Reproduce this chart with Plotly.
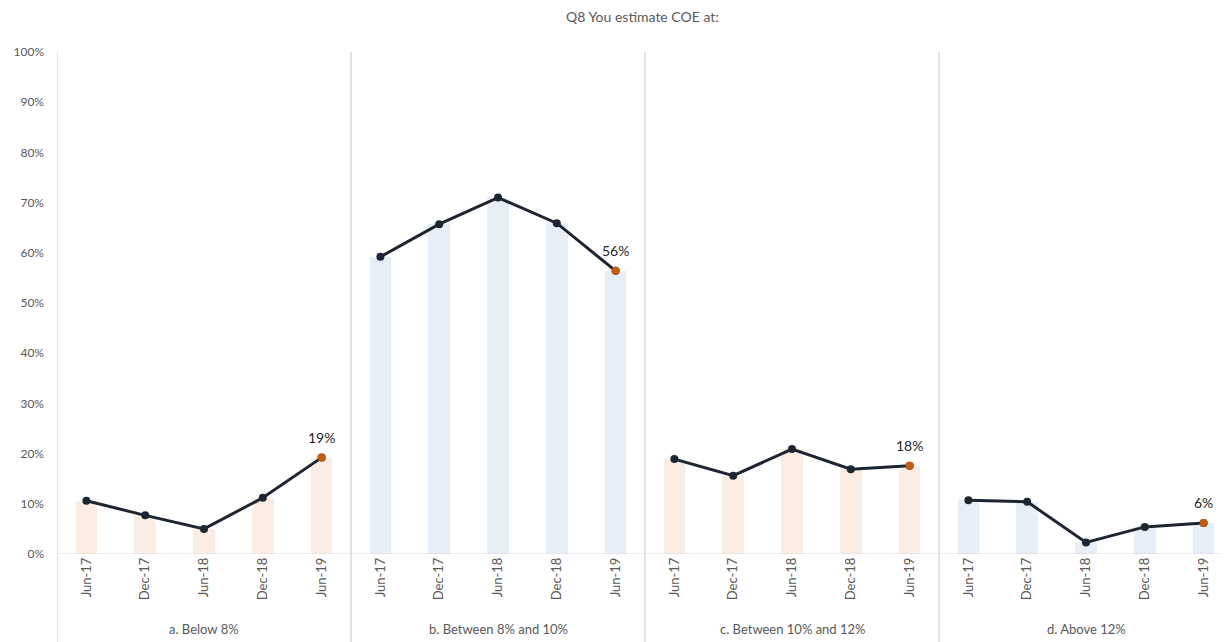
import plotly.graph_objects as go

groups = ["a. Below 8%", "b. Between 8% and 10%", "c. Between 10% and 12%", "d. Above 12%"]
periods = ["Jun-17", "Dec-17", "Jun-18", "Dec-18", "Jun-19"]
below_8 = [0.106, 0.077, 0.050, 0.112, 0.192]
between_8_10 = [0.592, 0.657, 0.710, 0.659, 0.564]
between_10_12 = [0.189, 0.156, 0.209, 0.169, 0.176]
above_12 = [0.107, 0.104, 0.023, 0.054, 0.062]
series = [below_8, between_8_10, between_10_12, above_12]
bar_colors = ["#FBEDE3", "#E7EEF7", "#FBEDE3", "#E7EEF7"]

FONT = "Lato"
GRAY = "#595959"
LINE = "#1E2532"
ORANGE = "#C55A11"

fig = go.Figure()
n = len(periods)
xs_all, ys_all, cols_all, tick_text = [], [], [], []
for g, vals in enumerate(series):
    xs = [g * n + i for i in range(n)]
    xs_all += xs
    ys_all += vals
    cols_all += [bar_colors[g]] * n
    tick_text += periods

fig.add_trace(go.Bar(x=xs_all, y=ys_all, marker=dict(color=cols_all, line=dict(width=0)),
                     width=0.37, showlegend=False, hoverinfo="skip"))

annotations = []
for g, vals in enumerate(series):
    xs = [g * n + i for i in range(n)]
    fig.add_trace(go.Scatter(x=xs, y=vals, mode="lines+markers",
                             line=dict(color=LINE, width=3),
                             marker=dict(color=LINE, size=8),
                             showlegend=False))
    fig.add_trace(go.Scatter(x=[xs[-1]], y=[vals[-1]], mode="markers",
                             marker=dict(color=ORANGE, size=8, line=dict(color=ORANGE, width=0)),
                             showlegend=False))
    annotations.append(dict(x=xs[-1], y=vals[-1], xref="x", yref="y",
                            text=f"{round(vals[-1]*100)}%", showarrow=False,
                            yshift=20, font=dict(family=FONT, size=14, color="#262626")))

shapes = []
for g in range(len(groups)):
    shapes.append(dict(type="line", xref="x", yref="paper", x0=g * n - 0.5, x1=g * n - 0.5,
                       y0=-0.18, y1=1.0, line=dict(color="#D9D9D9", width=1.5)))
shapes.append(dict(type="line", xref="paper", yref="y", x0=0, x1=1, y0=0, y1=0,
                   line=dict(color="#D9D9D9", width=1.2)))

for g, name in enumerate(groups):
    annotations.append(dict(x=g * n + (n - 1) / 2, y=-0.15, xref="x", yref="paper",
                            text=name, showarrow=False, yanchor="middle",
                            font=dict(family=FONT, size=13, color=GRAY)))

fig.update_layout(
    width=1220, height=634,
    margin=dict(l=49, r=0, t=44, b=88),
    paper_bgcolor="white", plot_bgcolor="white",
    title=dict(text="Q8 You estimate COE at:", x=0.52, xanchor="center", y=0.985, yanchor="middle",
               font=dict(family=FONT, size=14, color=GRAY)),
    xaxis=dict(range=[-0.5, 19.415], tickvals=list(range(len(xs_all))),
               ticktext=tick_text, tickangle=-90, showgrid=False, zeroline=False,
               showline=False, ticks="", tickfont=dict(family=FONT, size=13, color=GRAY)),
    yaxis=dict(range=[0, 1], dtick=0.1, tickformat=".0%", showgrid=False, zeroline=False,
               showline=False, ticks="", ticklabelstandoff=12,
               tickfont=dict(family=FONT, size=12, color=GRAY)),
    shapes=shapes, annotations=annotations, bargap=0,
)

fig.write_html("out.html")
